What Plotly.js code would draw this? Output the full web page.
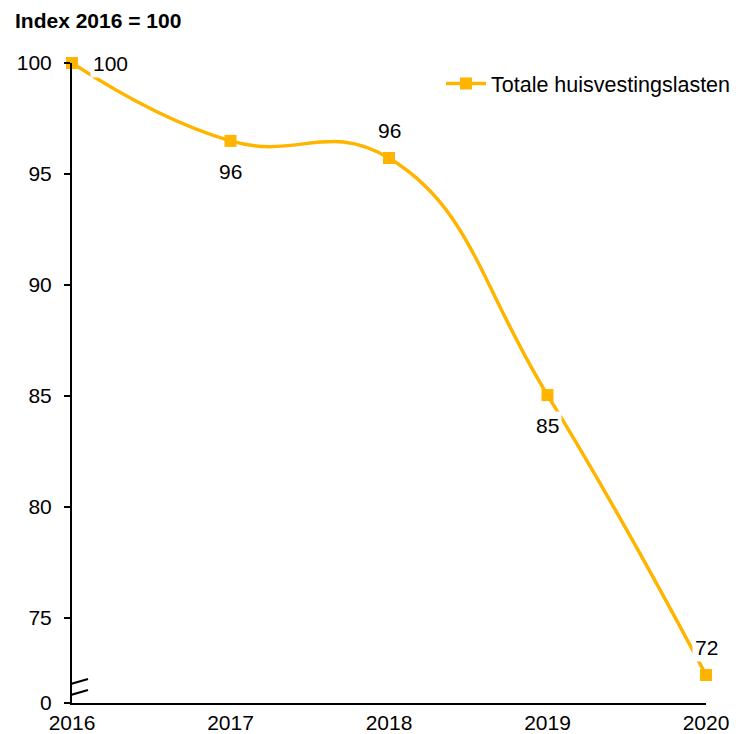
<!DOCTYPE html>
<html>
<head>
<meta charset="utf-8">
<script src="https://cdn.plot.ly/plotly-3.0.1.min.js"></script>
<style>html,body{margin:0;padding:0;background:#fff;}#chart{width:736px;height:734px;}</style>
</head>
<body>
<div id="chart"></div>
<script>
// Data
const years = [2016, 2017, 2018, 2019, 2020];
const indexValues = [100, 96.49, 95.72, 85.04, 72.43];
const seriesName = "Totale huisvestingslasten";
const yTickVals = [71.17, 75, 80, 85, 90, 95, 100];
const yTickText = ["0", "75", "80", "85", "90", "95", "100"];

// Label placement (style, not data)
const labelShiftX = [38, 0, 0, 0, 0];
const labelShiftY = [0, -31, 28, -30, 28];

const color = "#FFB400";
const font = "Liberation Sans, Arial, sans-serif";
const fs = 21;

const annotations = years.map((yr, i) => ({
  x: yr, y: indexValues[i], xref: "x", yref: "y",
  text: String(Math.round(indexValues[i])),
  showarrow: false, xshift: labelShiftX[i], yshift: labelShiftY[i],
  bgcolor: "#ffffff", borderpad: 2,
  font: {family: font, size: fs, color: "#000"}
}));

const layout = {
  width: 736, height: 734,
  margin: {l: 72, r: 30, t: 63, b: 31, autoexpand: false},
  paper_bgcolor: "#fff", plot_bgcolor: "#fff",
  font: {family: font, size: fs, color: "#000"},
  title: {text: "<b>Index 2016 = 100</b>", x: 15/736, xanchor: "left", xref: "container",
          y: 1 - 21/734, yanchor: "middle", yref: "container",
          font: {family: font, size: fs, color: "#000"}},
  xaxis: {range: [2016, 2020], tickvals: years, ticktext: years.map(String),
          showgrid: false, zeroline: false, showline: true, linecolor: "#000", linewidth: 2,
          ticks: "", ticklabelstandoff: 0, fixedrange: true},
  yaxis: {range: [71.17, 100], tickvals: yTickVals, ticktext: yTickText,
          showgrid: false, zeroline: false, showline: true, linecolor: "#000", linewidth: 2,
          ticks: "outside", ticklen: 6, tickwidth: 1.5, tickcolor: "#000", ticklabelstandoff: 8, fixedrange: true},
  showlegend: true,
  legend: {xref: "container", yref: "container", x: 740/736, xanchor: "right", y: 1 - 63/734, yanchor: "top",
           itemwidth: 40, bgcolor: "rgba(0,0,0,0)", font: {family: font, size: 21.5, color: "#000"}},
  annotations: annotations,
  shapes: [
    {type: "line", xref: "x", xsizemode: "pixel", xanchor: 2016, x0: -15, x1: 16,
     yref: "y", ysizemode: "pixel", yanchor: 71.17, y0: 15, y1: 24, line: {color: "#000", width: 2}},
    {type: "line", xref: "x", xsizemode: "pixel", xanchor: 2016, x0: -15, x1: 16,
     yref: "y", ysizemode: "pixel", yanchor: 71.17, y0: 4, y1: 13, line: {color: "#000", width: 2}}
  ]
};

const trace = {
  x: years, y: indexValues, name: seriesName, type: "scatter", mode: "lines+markers",
  line: {color: color, width: 3.5, shape: "spline", smoothing: 1.3},
  marker: {symbol: "square", size: 12, color: color},
  cliponaxis: false, hoverinfo: "skip"
};

Plotly.newPlot("chart", [trace], layout, {displayModeBar: false, staticPlot: true});
</script>
</body>
</html>
